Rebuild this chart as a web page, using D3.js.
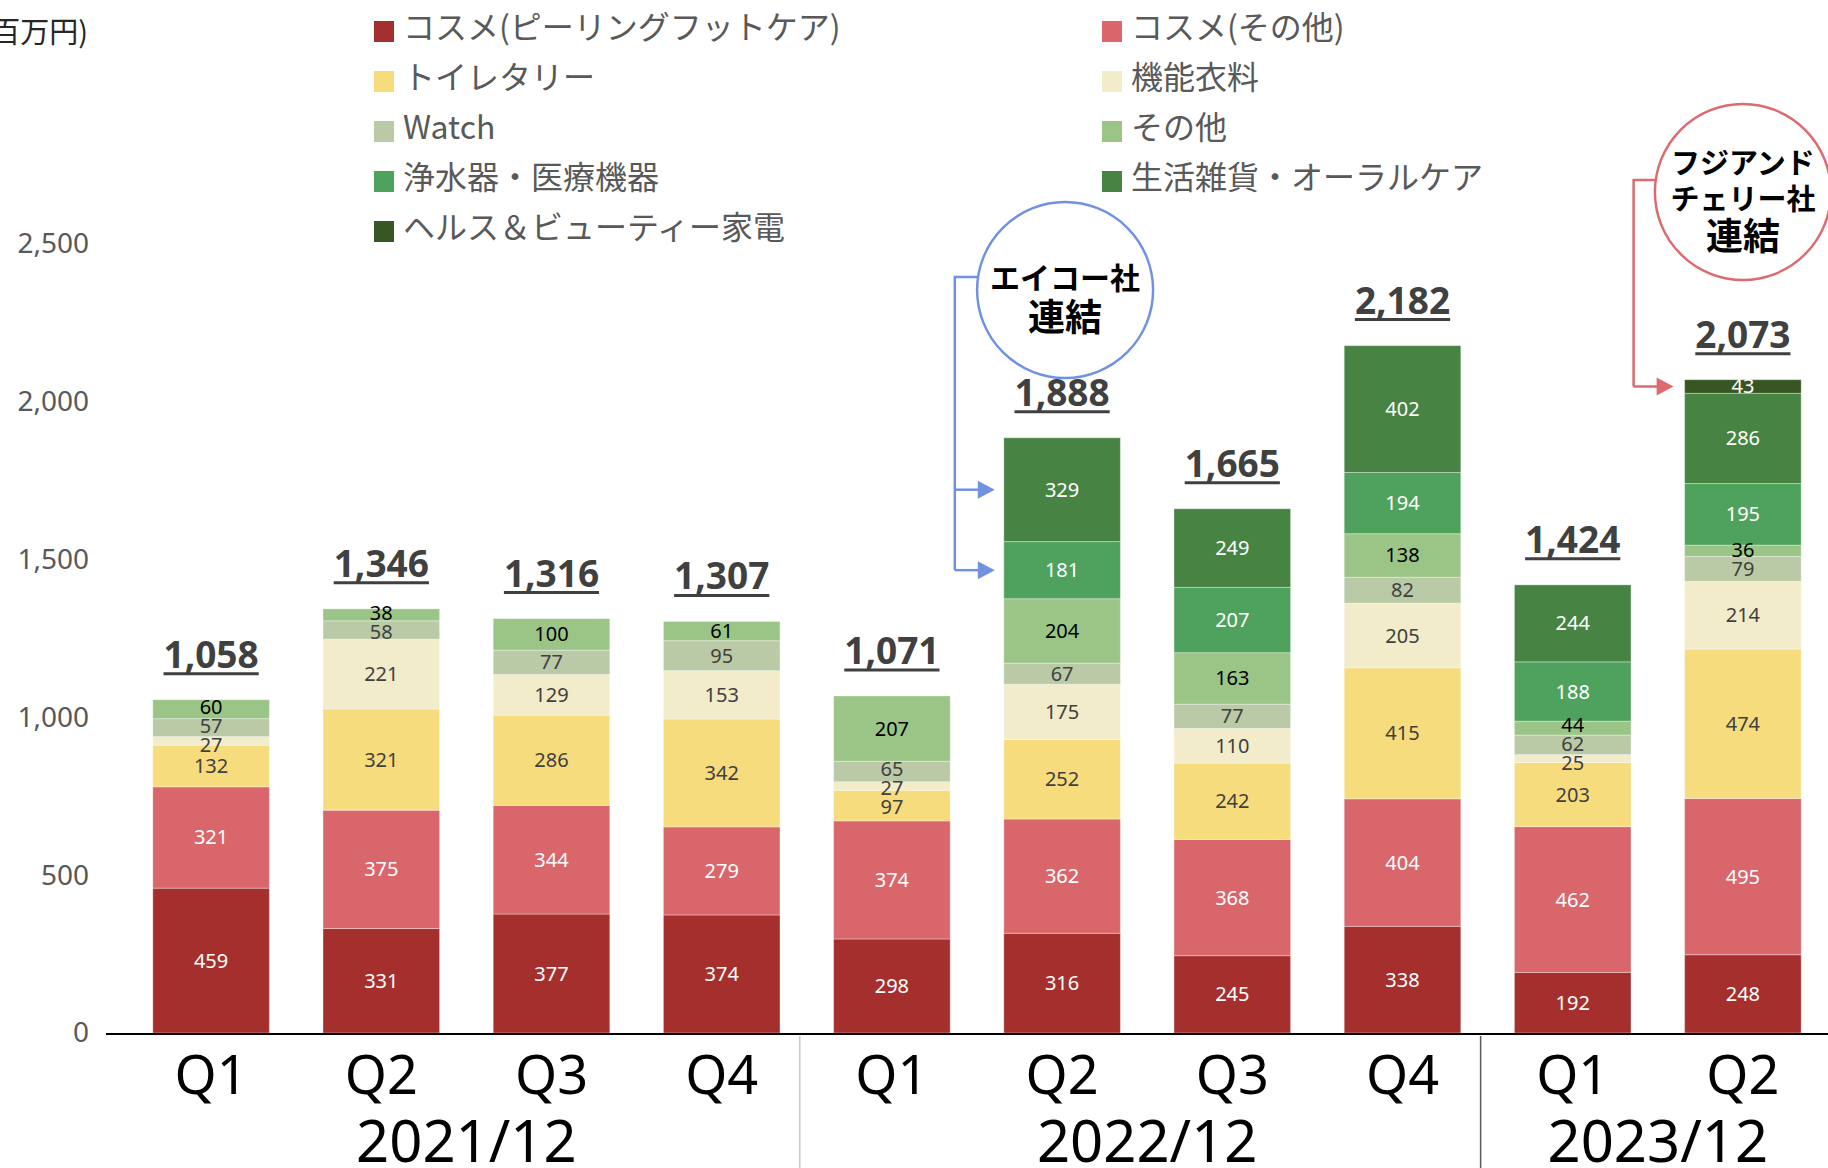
<!DOCTYPE html>
<html>
<head>
<meta charset="utf-8">
<script src="https://cdn.jsdelivr.net/npm/d3@7"></script>
<style>
  body { margin: 0; background: #fff; }
  svg { display: block; }
</style>
</head>
<body>
<div id="chart"></div>
<script>
// data per quarter
var periods = ["2021Q1", "2021Q2", "2021Q3", "2021Q4", "2022Q1", "2022Q2", "2022Q3", "2022Q4", "2023Q1", "2023Q2"];
var quarterLabels = ["Q1", "Q2", "Q3", "Q4", "Q1", "Q2", "Q3", "Q4", "Q1", "Q2"];
var yearLabels = ["2021/12", "2022/12", "2023/12"];
var yearFirst = ["2021Q1", "2022Q1", "2023Q1"];
var yearLast = ["2021Q4", "2022Q4", "2023Q2"];

var seriesNames = ["コスメ(ピーリングフットケア)", "コスメ(その他)", "トイレタリー", "機能衣料", "Watch", "その他", "浄水器・医療機器", "生活雑貨・オーラルケア", "ヘルス＆ビューティー家電"];
var cosmePeeling = [459, 331, 377, 374, 298, 316, 245, 338, 192, 248];
var cosmeOther = [321, 375, 344, 279, 374, 362, 368, 404, 462, 495];
var toiletry = [132, 321, 286, 342, 97, 252, 242, 415, 203, 474];
var apparel = [27, 221, 129, 153, 27, 175, 110, 205, 25, 214];
var watch = [57, 58, 77, 95, 65, 67, 77, 82, 62, 79];
var others = [60, 38, 100, 61, 207, 204, 163, 138, 44, 36];
var waterMedical = [0, 0, 0, 0, 0, 181, 207, 194, 188, 195];
var lifeOral = [0, 0, 0, 0, 0, 329, 249, 402, 244, 286];
var healthBeauty = [0, 0, 0, 0, 0, 0, 0, 0, 0, 43];
var totals = [1058, 1346, 1316, 1307, 1071, 1888, 1665, 2182, 1424, 2073];
var yTicks = [0, 500, 1000, 1500, 2000, 2500];

var seriesValues = [cosmePeeling, cosmeOther, toiletry, apparel, watch, others, waterMedical, lifeOral, healthBeauty];
var colors = ["#a52f2d", "#d9666b", "#f7dc7e", "#f2ecca", "#bbcaa6", "#9ac587", "#4fa25d", "#478443", "#375623"];
var labelColors = ["#fff", "#fff", "#404040", "#404040", "#404040", "#000", "#fff", "#fff", "#fff"];

var width = 1828;
var height = 1168;

// rows for d3.stack
var rows = periods.map(function(p, i) {
    var r = { period: p };
    seriesNames.forEach(function(s, j) { r[s] = seriesValues[j][i]; });
    return r;
});
var stacked = d3.stack().keys(seriesNames)(rows);

var x = d3.scaleBand()
    .domain(periods)
    .range([126, 1828])
    .paddingInner(0.315)
    .paddingOuter(0.1575);

var y = d3.scaleLinear()
    .domain([0, 2500])
    .range([1033, 244]);

var svg = d3.select("#chart")
    .append("svg")
    .attr("width", width)
    .attr("height", height);

// y axis labels (no line, no grid)
var yAxis = d3.axisLeft(y).tickValues(yTicks).tickFormat(d3.format(",")).tickSize(0).tickPadding(0);
var gy = svg.append("g").attr("transform", "translate(89,0)").call(yAxis);
gy.select(".domain").remove();
gy.selectAll("text")
    .attr("font-family", "'Noto Sans', sans-serif")
    .attr("font-size", 28)
    .attr("fill", "#595959");

// unit label
svg.append("text")
    .attr("x", 88).attr("y", 43)
    .attr("text-anchor", "end")
    .attr("font-family", "'Noto Sans CJK JP', sans-serif")
    .attr("font-size", 29)
    .attr("fill", "#262626")
    .text("(百万円)");

// bars
var layers = svg.selectAll("g.layer")
    .data(stacked)
    .enter().append("g")
    .attr("class", "layer")
    .attr("fill", function(d, i) { return colors[i]; });

layers.selectAll("rect")
    .data(function(d) { return d.filter(function(v) { return v[1] - v[0] > 0; }); })
    .enter().append("rect")
    .attr("x", function(d) { return x(d.data.period); })
    .attr("y", function(d) { return y(d[1]); })
    .attr("width", x.bandwidth())
    .attr("height", function(d) { return y(d[0]) - y(d[1]); })
    .attr("stroke", "#fff")
    .attr("stroke-opacity", 0.35)
    .attr("stroke-width", 1);

// segment labels, small ones pushed apart a bit
var minGap = 19;
periods.forEach(function(p, i) {
    var items = [];
    stacked.forEach(function(layer, j) {
        var d = layer[i];
        if (d[1] - d[0] > 0) {
            items.push({ series: j, value: d[1] - d[0], cy: (y(d[0]) + y(d[1])) / 2, h: y(d[0]) - y(d[1]) });
        }
    });
    // items go bottom -> top (cy decreasing)
    for (var it = 0; it < 30; it++) {
        for (var k = 0; k < items.length - 1; k++) {
            var a = items[k], b = items[k + 1];
            var gap = a.cy - b.cy;
            if (gap < minGap) {
                var push = (minGap - gap) / 2;
                // big segments move less
                var wa = a.h > 60 ? 0.3 : 1, wb = b.h > 60 ? 0.3 : 1;
                a.cy += push * wa / ((wa + wb) / 2);
                b.cy -= push * wb / ((wa + wb) / 2);
            }
        }
    }
    svg.append("g").selectAll("text")
        .data(items)
        .enter().append("text")
        .attr("x", x(p) + x.bandwidth() / 2)
        .attr("y", function(d) { return d.cy; })
        .attr("dy", "0.35em")
        .attr("text-anchor", "middle")
        .attr("font-family", "'Noto Sans', sans-serif")
        .attr("font-size", 20)
        .attr("fill", function(d) { return labelColors[d.series]; })
        .text(function(d) { return d.value; });
});

// totals, bold + underline
periods.forEach(function(p, i) {
    var top = y(d3.sum(seriesValues, function(s) { return s[i]; }));
    var t = svg.append("text")
        .attr("x", x(p) + x.bandwidth() / 2)
        .attr("y", top - 32)
        .attr("text-anchor", "middle")
        .attr("font-family", "'Noto Sans', sans-serif")
        .attr("font-weight", "bold")
        .attr("font-size", 37)
        .attr("fill", "#404040")
        .text(d3.format(",")(totals[i]));
    var bb = t.node().getBBox();
    svg.append("line")
        .attr("x1", bb.x).attr("x2", bb.x + bb.width)
        .attr("y1", top - 26).attr("y2", top - 26)
        .attr("stroke", "#404040")
        .attr("stroke-width", 3);
});

// x axis line
svg.append("line")
    .attr("x1", 106).attr("x2", 1828)
    .attr("y1", y(0) + 1).attr("y2", y(0) + 1)
    .attr("stroke", "#000")
    .attr("stroke-width", 2);

// quarter labels
svg.append("g").selectAll("text")
    .data(periods)
    .enter().append("text")
    .attr("x", function(d) { return x(d) + x.bandwidth() / 2; })
    .attr("y", 1094)
    .attr("text-anchor", "middle")
    .attr("font-family", "'Noto Sans', sans-serif")
    .attr("font-size", 54)
    .attr("fill", "#000")
    .text(function(d, i) { return quarterLabels[i]; });

// year labels
yearLabels.forEach(function(lbl, i) {
    var cx = (x(yearFirst[i]) + x(yearLast[i]) + x.bandwidth()) / 2;
    svg.append("text")
        .attr("x", cx)
        .attr("y", 1162)
        .attr("text-anchor", "middle")
        .attr("font-family", "'Noto Sans', sans-serif")
        .attr("font-size", 58)
        .attr("fill", "#000")
        .text(lbl);
});

// year separators
var sepColors = ["#c8c8c8", "#595959"];
[["2021Q4", "2022Q1"], ["2022Q4", "2023Q1"]].forEach(function(pair, i) {
    var sx = (x(pair[0]) + x.bandwidth() + x(pair[1])) / 2 - 7;
    svg.append("line")
        .attr("x1", sx).attr("x2", sx)
        .attr("y1", y(0) + 3).attr("y2", height)
        .attr("stroke", sepColors[i])
        .attr("stroke-width", 1.5);
});

// legend, 2 columns
var legend = svg.append("g");
seriesNames.forEach(function(name, i) {
    var col = i % 2;
    var row = Math.floor(i / 2);
    var lx = col === 0 ? 374 : 1102;
    var ly = 31 + row * 50;
    legend.append("rect")
        .attr("x", lx).attr("y", ly - 10)
        .attr("width", 20).attr("height", 21)
        .attr("fill", colors[i]);
    legend.append("text")
        .attr("x", lx + 29).attr("y", ly - 3)
        .attr("dy", "0.35em")
        .attr("font-family", "'Noto Sans CJK JP', sans-serif")
        .attr("font-size", 32)
        .attr("fill", "#595959")
        .text(name);
});

// annotation helpers
function arrow(color, x0, x1, yy) {
    svg.append("line")
        .attr("x1", x0).attr("x2", x1 - 14)
        .attr("y1", yy).attr("y2", yy)
        .attr("stroke", color).attr("stroke-width", 2.5);
    svg.append("path")
        .attr("d", "M" + x1 + "," + yy + " L" + (x1 - 17) + "," + (yy - 9) + " L" + (x1 - 17) + "," + (yy + 9) + " Z")
        .attr("fill", color);
}

function segMid(series, period) {
    var i = periods.indexOf(period);
    var d = stacked[series][i];
    return (y(d[0]) + y(d[1])) / 2;
}

// エイコー社 連結
var blue = "#7192e0";
var bcx = x("2022Q2") + x.bandwidth() / 2 + 3;
var bcy = 290;
svg.append("circle")
    .attr("cx", bcx).attr("cy", bcy).attr("r", 88)
    .attr("fill", "#fff").attr("stroke", blue).attr("stroke-width", 2.5);
svg.append("text").attr("x", bcx).attr("y", bcy - 1)
    .attr("text-anchor", "middle")
    .attr("font-family", "'Noto Sans CJK JP', sans-serif").attr("font-weight", "bold")
    .attr("font-size", 30).attr("fill", "#000").text("エイコー社");
svg.append("text").attr("x", bcx).attr("y", bcy + 41)
    .attr("text-anchor", "middle")
    .attr("font-family", "'Noto Sans CJK JP', sans-serif").attr("font-weight", "bold")
    .attr("font-size", 37).attr("fill", "#000").text("連結");
var bvx = x("2022Q2") - 49;
var by1 = segMid(7, "2022Q2");
var by2 = segMid(6, "2022Q2");
svg.append("path")
    .attr("d", "M" + (bcx - 87) + "," + (bcy - 13) + " H" + bvx + " V" + by2)
    .attr("fill", "none").attr("stroke", blue).attr("stroke-width", 2.5);
arrow(blue, bvx, x("2022Q2") - 9, by1);
arrow(blue, bvx, x("2022Q2") - 9, by2);

// フジアンドチェリー社 連結
var red = "#dc6a6f";
var rcx = x("2023Q2") + x.bandwidth() / 2;
var rcy = 192;
svg.append("circle")
    .attr("cx", rcx).attr("cy", rcy).attr("r", 88)
    .attr("fill", "#fff").attr("stroke", red).attr("stroke-width", 2.5);
svg.append("text").attr("x", rcx).attr("y", rcy - 18)
    .attr("text-anchor", "middle")
    .attr("font-family", "'Noto Sans CJK JP', sans-serif").attr("font-weight", "bold")
    .attr("font-size", 29).attr("fill", "#000").text("フジアンド");
svg.append("text").attr("x", rcx).attr("y", rcy + 18)
    .attr("text-anchor", "middle")
    .attr("font-family", "'Noto Sans CJK JP', sans-serif").attr("font-weight", "bold")
    .attr("font-size", 29).attr("fill", "#000").text("チェリー社");
svg.append("text").attr("x", rcx).attr("y", rcy + 58)
    .attr("text-anchor", "middle")
    .attr("font-family", "'Noto Sans CJK JP', sans-serif").attr("font-weight", "bold")
    .attr("font-size", 37).attr("fill", "#000").text("連結");
var rvx = x("2023Q2") - 51;
var ry1 = segMid(8, "2023Q2");
svg.append("path")
    .attr("d", "M" + (rcx - 87) + "," + (rcy - 12) + " H" + rvx + " V" + ry1)
    .attr("fill", "none").attr("stroke", red).attr("stroke-width", 2.5);
arrow(red, rvx, x("2023Q2") - 11, ry1);
</script>
</body>
</html>
